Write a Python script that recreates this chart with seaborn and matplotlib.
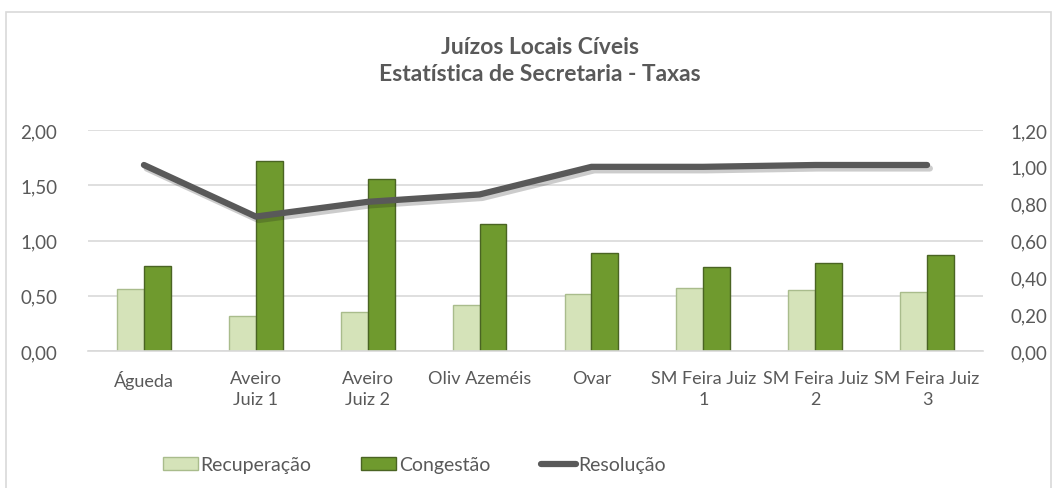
import numpy as np
import pandas as pd
import matplotlib
matplotlib.use("Agg")
import matplotlib.pyplot as plt
import matplotlib.patheffects as pe
from matplotlib.ticker import FuncFormatter
from matplotlib.patches import Rectangle
from matplotlib.lines import Line2D
import seaborn as sns

# Data
categorias = ["Águeda", "Aveiro\nJuiz 1", "Aveiro\nJuiz 2", "Oliv Azeméis", "Ovar",
              "SM Feira Juiz\n1", "SM Feira Juiz\n2", "SM Feira Juiz\n3"]
recuperacao = [0.56, 0.32, 0.35, 0.42, 0.52, 0.57, 0.55, 0.53]
congestao = [0.77, 1.72, 1.56, 1.15, 0.89, 0.76, 0.80, 0.87]
resolucao = [1.01, 0.73, 0.81, 0.85, 1.00, 1.00, 1.01, 1.01]
series = ["Recuperação", "Congestão"]
titulo = "Juízos Locais Cíveis\nEstatística de Secretaria - Taxas"

sns.set_theme(style="white")
plt.rcParams["font.family"] = ["Lato", "DejaVu Sans"]

TXT = "#595959"
GRID = "#d9d9d9"
C_REC = "#d5e3b9"
C_REC_EDGE = "#a9bc8c"
C_CON = "#6f9a2e"
C_CON_EDGE = "#4a6423"
C_LINE = "#595959"

df = pd.DataFrame({
    "categoria": categorias * 2,
    "valor": recuperacao + congestao,
    "serie": [series[0]] * len(categorias) + [series[1]] * len(categorias),
})

fig = plt.figure(figsize=(10.57, 4.89), dpi=100)
ax = fig.add_axes([88 / 1057, 1 - 352 / 489, (983 - 88) / 1057, (352 - 131) / 489])

sns.barplot(data=df, x="categoria", y="valor", hue="serie", order=categorias,
            hue_order=series, palette=[C_REC, C_CON], width=0.48, ax=ax,
            legend=False, saturation=1)
edges = [C_REC_EDGE] * len(categorias) + [C_CON_EDGE] * len(categorias)
for bar, ec in zip(ax.patches, edges):
    bar.set_edgecolor(ec)
    bar.set_linewidth(1.0)

ax.set_ylim(0, 2.0)
ax.set_yticks([0, 0.5, 1.0, 1.5, 2.0])
ax.yaxis.set_major_formatter(FuncFormatter(lambda v, p: f"{v:.2f}".replace(".", ",")))
ax.grid(axis="y", color=GRID, linewidth=1.2)
ax.set_axisbelow(True)
ax.set_xlabel("")
ax.set_ylabel("")
for s in ["top", "right", "left"]:
    ax.spines[s].set_visible(False)
ax.spines["bottom"].set_color(GRID)
ax.spines["bottom"].set_linewidth(1.2)
ax.tick_params(axis="y", colors=TXT, labelsize=13.5, length=0, pad=22)
ax.tick_params(axis="x", colors=TXT, labelsize=13, length=0, pad=14)
for lbl in ax.get_xticklabels():
    lbl.set_linespacing(1.35)
ax.set_xlim(-0.5, len(categorias) - 0.5)

ax2 = ax.twinx()
ax2.plot(range(len(categorias)), resolucao, color=C_LINE, linewidth=4.5,
         solid_capstyle="round", solid_joinstyle="round",
         path_effects=[pe.SimpleLineShadow(offset=(2, -2.5), alpha=0.22), pe.Normal()])
ax2.set_ylim(0, 1.2)
ax2.set_yticks([0, 0.2, 0.4, 0.6, 0.8, 1.0, 1.2])
ax2.yaxis.set_major_formatter(FuncFormatter(lambda v, p: f"{v:.2f}".replace(".", ",")))
for s in ["top", "right", "left", "bottom"]:
    ax2.spines[s].set_visible(False)
ax2.tick_params(axis="y", colors=TXT, labelsize=13.5, length=0, pad=20)
ax2.grid(False)
ax2.set_xlim(-0.5, len(categorias) - 0.5)

fig.text(540 / 1057, 1 - 61 / 489, titulo, ha="center", va="center",
         fontsize=16.5, fontweight="bold", color=TXT, linespacing=1.35)

# Outer chart frame
fig.patches.append(Rectangle((6 / 1057, -0.01), 1045 / 1057, 1 - 13 / 489 + 0.01,
                             transform=fig.transFigure, fill=False,
                             edgecolor=GRID, linewidth=1.2))

handles = [
    Rectangle((0, 0), 1, 1, facecolor=C_REC, edgecolor=C_REC_EDGE),
    Rectangle((0, 0), 1, 1, facecolor=C_CON, edgecolor=C_CON_EDGE),
    Line2D([0], [0], color=C_LINE, linewidth=4.5, solid_capstyle="round"),
]
leg = fig.legend(handles, ["Recuperação", "Congestão", "Resolução"], ncol=3,
                 loc="center left", bbox_to_anchor=(145 / 1057, 1 - 466 / 489),
                 frameon=False, fontsize=14, handlelength=1.8, handleheight=0.65,
                 handletextpad=0.12, columnspacing=2.6)
for t in leg.get_texts():
    t.set_color(TXT)

fig.savefig("out.png", dpi=100, facecolor="white")
